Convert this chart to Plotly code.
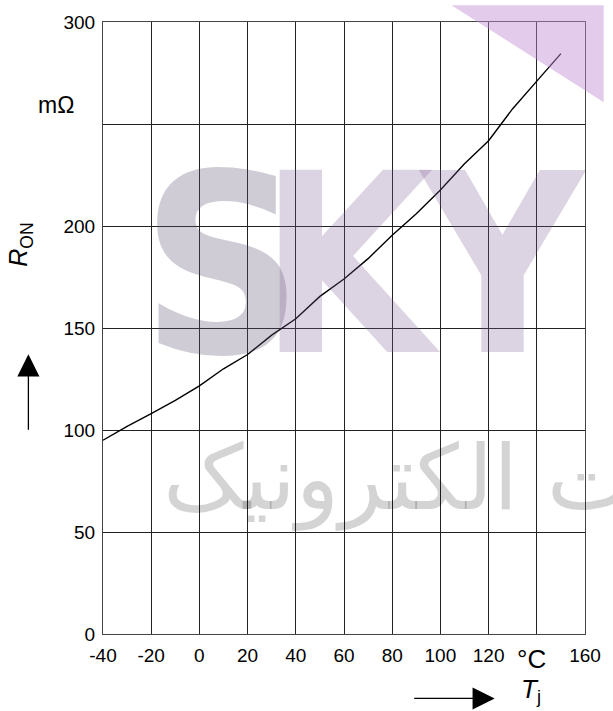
import plotly.graph_objects as go

# junction temperature (deg C) vs on-resistance (mOhm)
tj = [-40, -30, -20, -10, 0, 10, 20, 30, 40, 50, 60, 70, 80, 90, 100, 110, 120, 130, 140, 150]
r_on = [95, 101.8, 108, 114.5, 121.6, 130, 137, 146.5, 154.5, 165.5,
        174, 184, 195.5, 206, 217.7, 230.5, 241.8, 257.5, 271, 284.5]

x_ticks = [-40, -20, 0, 20, 40, 60, 80, 100, 120, 140, 160]
x_labels = ["-40", "-20", "0", "20", "40", "60", "80", "100", "120", "", "160"]
y_ticks = [0, 50, 100, 150, 200, 250, 300]
y_labels = ["0", "50", "100", "150", "200", "", "300"]

W, H = 613, 711
L, R, T, B = 103, 19, 17, 77
pw, ph = W - L - R, H - T - B


# helpers: figure pixel -> paper coords
def px(x):
    return (x - L) / pw


def py(y):
    return (H - B - y) / ph


font = "Liberation Sans, Arial, sans-serif"
narrow = "DejaVu Sans Condensed, Liberation Sans Narrow, sans-serif"

fig = go.Figure()
fig.add_trace(go.Scatter(x=tj, y=r_on, mode="lines",
                         line=dict(color="black", width=1.4), showlegend=False))

axis_common = dict(showgrid=True, gridcolor="#222", gridwidth=1,
                   showline=True, linecolor="#444", linewidth=1, mirror=True,
                   zeroline=False, ticks="", tickfont=dict(family=font, size=19, color="black"))

fig.update_xaxes(range=[-40, 160], tickvals=x_ticks, ticktext=x_labels,
                 ticklabelstandoff=4, **axis_common)
fig.update_yaxes(range=[0, 300], tickvals=y_ticks, ticktext=y_labels,
                 ticklabelstandoff=3, **axis_common)


def label(x, y, text, size, color="black", family=font, **kw):
    d = dict(xref="paper", yref="paper", x=px(x), y=py(y), text=text, showarrow=False,
             xanchor="center", yanchor="middle", font=dict(family=family, size=size, color=color))
    d.update(kw)
    return d


ann = []
# watermark
ann.append(label(224, 262, "<b>S</b>", 250, "rgba(100,85,120,0.3)", narrow))
ann.append(label(355, 262, "<b>K</b>", 250, "rgba(130,95,150,0.27)", narrow))
ann.append(label(510, 262, "<b>Y</b>", 250, "rgba(130,95,150,0.27)", narrow))
ann.append(label(162, 477, "قطعات الکترونیک", 90, "rgba(0,0,0,0.17)", "DejaVu Sans",
                 xanchor="left"))

# axis labels and units
ann.append(label(55, 101, "mΩ", 23))
ann.append(label(19, 242, "<i>R</i><sub>ON</sub>", 25, textangle=-90))
ann.append(label(540, 659, "°C", 26))
ann.append(label(539, 691, "<i>T</i><sub>j</sub>", 26))
# arrows
ann.append(dict(xref="paper", yref="paper", x=px(27), y=py(352), ax=0, ay=77,
                text="", showarrow=True, arrowhead=2, arrowsize=3.4, arrowwidth=1.3,
                arrowcolor="black"))
ann.append(dict(xref="paper", yref="paper", x=px(502), y=py(699), ax=-82, ay=0,
                text="", showarrow=True, arrowhead=2, arrowsize=3.4, arrowwidth=1.3,
                arrowcolor="black"))

fig.update_layout(
    width=W, height=H,
    margin=dict(l=L, r=R, t=T, b=B),
    paper_bgcolor="white", plot_bgcolor="white",
    annotations=ann,
    shapes=[dict(type="path", xref="paper", yref="paper",
                 path=f"M {px(458)} {py(0)} L {px(613)} {py(0)} L {px(613)} {py(98)} Z",
                 fillcolor="rgba(190,140,210,0.45)", line=dict(width=0), layer="above")],
)

fig.write_html("out.html", config={"displayModeBar": False},
               post_script="document.body.style.margin='0';")
